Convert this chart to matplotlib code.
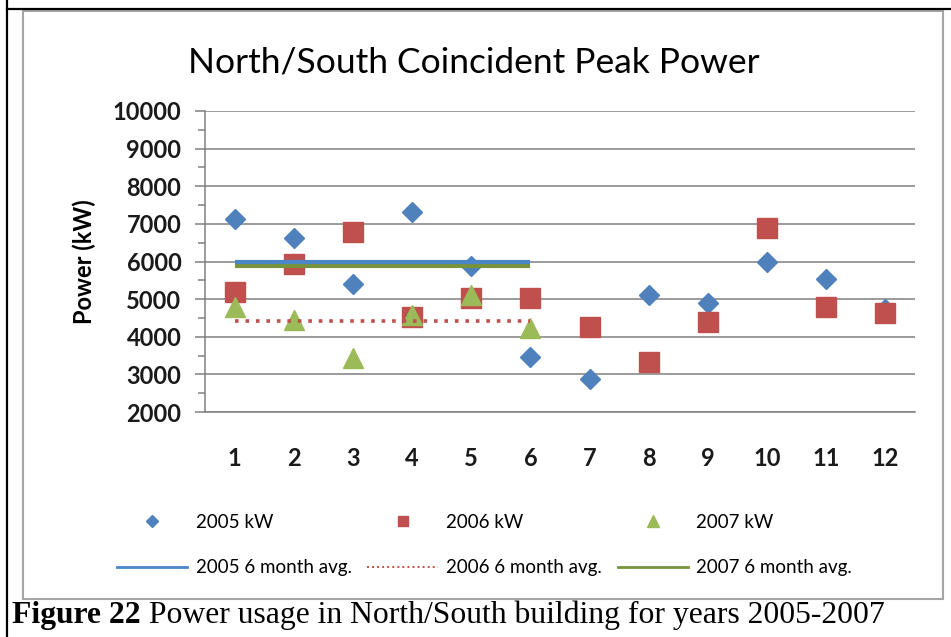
import matplotlib.pyplot as plt
from matplotlib.lines import Line2D
from matplotlib.patches import Rectangle

# monthly coincident peak power (kW)
months = [1, 2, 3, 4, 5, 6, 7, 8, 9, 10, 11, 12]
kw_2005 = [7120, 6620, 5390, 7320, 5880, 3460, 2890, 5100, 4900, 5980, 5540, 4730]
kw_2006 = [5190, 5930, 6790, 4530, 5020, 5035, 4255, 3335, 4400, 6880, 4790, 4635]
months_2007 = [1, 2, 3, 4, 5, 6]
kw_2007 = [4800, 4445, 3430, 4580, 5110, 4225]

# six month averages, drawn over months 1-6
avg_months = [1, 6]
avg_2005 = [5975, 5975]
avg_2006 = [4415, 4415]
avg_2007 = [5870, 5870]

labels = ['2005 kW', '2005 6 month avg.', '2006 kW', '2006 6 month avg.',
          '2007 kW', '2007 6 month avg.']
title = 'North/South Coincident Peak Power'
caption_bold = 'Figure 22'
caption_rest = ' Power usage in North/South building for years 2005-2007'

blue = '#4F81BD'
red = '#C0504D'
green = '#9BBB59'
blue_line = '#4A86C8'
green_line = '#77933C'
grid_c = '#808080'

plt.rcParams['font.family'] = ['Lato', 'DejaVu Sans']

W, H = 951, 637
fig = plt.figure(figsize=(W / 100, H / 100), dpi=100)
fig.patch.set_facecolor('white')

# page borders and chart frame
fig.add_artist(Line2D([7 / W, 7 / W], [0, 1], color='black', lw=1.6))
fig.add_artist(Line2D([7 / W, 1], [1 - 9 / H, 1 - 9 / H], color='black', lw=1.6))
fig.add_artist(Rectangle((23 / W, 1 - 599 / H), 920 / W, 588 / H,
                         transform=fig.transFigure, fill=False,
                         edgecolor='#A6A6A6', lw=1.5))

ax = fig.add_axes([205 / W, 1 - 412 / H, 710 / W, 301 / H])
ax.plot(months, kw_2005, ls='none', marker='D', ms=10, color=blue, zorder=3)
ax.plot(months, kw_2006, ls='none', marker='s', ms=14.5, color=red, zorder=4)
ax.plot(months_2007, kw_2007, ls='none', marker='^', ms=14.5, color=green, zorder=5)
ax.plot(avg_months, avg_2007, color=green_line, lw=3, solid_capstyle='butt', zorder=6)
ax.plot(avg_months, avg_2005, color=blue_line, lw=3, solid_capstyle='butt', zorder=6)
ax.plot(avg_months, avg_2006, color=red, lw=2.6, ls=(0, (1, 1.9)), zorder=7)

ax.set_xlim(0.5, 12.5)
ax.set_ylim(2000, 10000)
ax.set_xticks(months)
ax.set_yticks(range(2000, 10001, 1000))
ax.set_yticks(range(2500, 10000, 1000), minor=True)
ax.yaxis.grid(True, color=grid_c, lw=1.1)
ax.set_axisbelow(True)
for s in ['top', 'right']:
    ax.spines[s].set_visible(False)
for s in ['left', 'bottom']:
    ax.spines[s].set_color(grid_c)
    ax.spines[s].set_linewidth(1.1)
ax.tick_params(axis='y', which='major', length=7, color=grid_c, width=1.1,
               pad=10, labelsize=17, labelcolor='#1a1a1a')
ax.tick_params(axis='y', which='minor', length=5, color=grid_c, width=1.1)
ax.tick_params(axis='x', length=0, pad=25, labelsize=17, labelcolor='#1a1a1a')
for t in ax.get_xticklabels() + ax.get_yticklabels():
    t.set_fontweight('bold')
ax.set_ylabel('Power (kW)', fontsize=17, fontweight='bold', labelpad=12)

fig.text(474 / W, 1 - 62 / H, title, ha='center', va='center', fontsize=25.5)

handles = [
    Line2D([], [], ls='none', marker='D', ms=6, color=blue),
    Line2D([], [], color=blue_line, lw=2),
    Line2D([], [], ls='none', marker='s', ms=7, color=red),
    Line2D([], [], color=red, lw=1.4, ls=(0, (1, 1.6))),
    Line2D([], [], ls='none', marker='^', ms=8, color=green),
    Line2D([], [], color=green_line, lw=2),
]
fig.legend(handles=handles, labels=labels, ncol=3, loc='upper left',
           bbox_to_anchor=(117 / W, 1 - 514 / H), frameon=False, fontsize=13.5,
           handlelength=3.75, handletextpad=0.45, columnspacing=0.84,
           labelspacing=1.5, borderpad=0, borderaxespad=0)

# caption below the chart: bold figure number followed by plain text
cap = fig.text(12 / W, 1 - 623 / H, caption_bold, fontfamily='Liberation Serif',
               fontweight='bold', fontsize=22.8, va='baseline')
ax.annotate(caption_rest, xy=(1, 0), xycoords=cap, va='bottom', ha='left',
            fontfamily='Liberation Serif', fontsize=22.8)

fig.savefig('out.png', dpi=100)
